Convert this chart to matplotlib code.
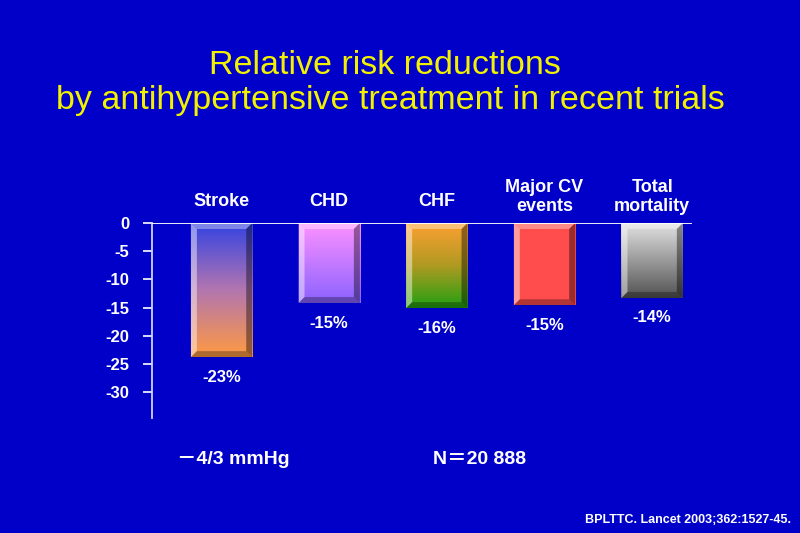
import numpy as np
import matplotlib
matplotlib.use("Agg")
import matplotlib.pyplot as plt
from matplotlib.colors import LinearSegmentedColormap
from matplotlib.patches import Polygon

# --- Data ---
categories = ["Stroke", "CHD", "CHF", "Major CV\nevents", "Total\nmortality"]
bar_depth = [-23.8, -14.2, -15.1, -14.6, -13.3]   # where the bars end as drawn
value_labels = ["-23%", "-15%", "-16%", "-15%", "-14%"]
y_ticks = [0, -5, -10, -15, -20, -25, -30]

# gradient stops top -> bottom for each bar
bar_colors = [
    ["#3242e2", "#b276b0", "#ff9a42"],
    ["#ff92ff", "#8a62ff"],
    ["#ffa032", "#b09a22", "#22a012"],
    ["#ff4c4c", "#ff4c4c"],
    ["#e2e2e2", "#525252"],
]

bg = "#0000c8"
white = "white"
font = ["Liberation Sans", "Noto Sans CJK SC", "DejaVu Sans"]
plt.rcParams['font.family'] = font

fig = plt.figure(figsize=(8, 5.33), dpi=100, facecolor=bg)
ax = fig.add_axes([152 / 800, 1 - 418 / 533, (692 - 152) / 800, (418 - 223) / 533])
ax.set_facecolor(bg)

xlim = (-0.646, 4.37)
ylim = (-34.6, 0)
bar_w = 0.57
# bevel size: about 6 px each way
dx = 6 * (xlim[1] - xlim[0]) / (692 - 152)
dy = 6 * (ylim[1] - ylim[0]) / (418 - 223)
px_y = (ylim[1] - ylim[0]) / (418 - 223)

grad = np.linspace(0, 1, 256).reshape(-1, 1)
for i, (d, cols) in enumerate(zip(bar_depth, bar_colors)):
    x0, x1 = i - bar_w / 2, i + bar_w / 2
    cmap = LinearSegmentedColormap.from_list(f"bar{i}", cols)
    ax.imshow(grad, cmap=cmap, extent=(x0, x1, d, 0), origin='upper',
              aspect='auto', interpolation='bilinear', zorder=2)
    # bevel faces
    top = [(x0, 0), (x1, 0), (x1 - dx, -dy), (x0 + dx, -dy)]
    left = [(x0, 0), (x0 + dx, -dy), (x0 + dx, d + dy), (x0, d)]
    right = [(x1, 0), (x1, d), (x1 - dx, d + dy), (x1 - dx, -dy)]
    bottom = [(x0, d), (x1, d), (x1 - dx, d + dy), (x0 + dx, d + dy)]
    ax.add_patch(Polygon(top, closed=True, fc='white', alpha=0.35, lw=0, zorder=3))
    ax.add_patch(Polygon(left, closed=True, fc='white', alpha=0.45, lw=0, zorder=3))
    ax.add_patch(Polygon(right, closed=True, fc='black', alpha=0.4, lw=0, zorder=3))
    ax.add_patch(Polygon(bottom, closed=True, fc='black', alpha=0.3, lw=0, zorder=3))

    # percentage under the bar
    ax.text(i, d - 20 * px_y, value_labels[i], ha='center', va='center',
            color=white, fontsize=12, fontweight='bold')
    # category name above the bar
    cy = 26 * px_y if "\n" in categories[i] else 21 * px_y
    ax.text(i, cy, categories[i], ha='center', va='center', color=white,
            fontsize=13, fontweight='bold', linespacing=1.2, clip_on=False)

ax.set_xlim(*xlim)
ax.set_ylim(*ylim)
ax.axhline(0, color=white, lw=1.3, zorder=4)

for s in ['top', 'right', 'bottom']:
    ax.spines[s].set_visible(False)
ax.spines['left'].set_color('#d0d0ff')
ax.spines['left'].set_linewidth(1.3)
ax.set_xticks([])
ax.set_yticks(y_ticks)
ax.set_yticklabels([str(t) for t in y_ticks])
ax.tick_params(axis='y', colors=white, length=6.5, width=1.2, pad=10,
               labelsize=12)
for lab in ax.get_yticklabels():
    lab.set_fontweight('bold')

# --- Title ---
fig.text(385 / 800, 1 - 65 / 533, "Relative risk reductions", ha='center',
         va='center', color='#f2f200', fontsize=24.5)
fig.text(390 / 800, 1 - 100 / 533, "by antihypertensive treatment in recent trials",
         ha='center', va='center', color='#f2f200', fontsize=24.5)

# --- Footer notes ---
fig.text(177 / 800, 1 - 460 / 533, "－4/3 mmHg", ha='left', va='center',
         color=white, fontsize=14, fontweight='bold')
fig.text(433 / 800, 1 - 459 / 533, "N＝20 888", ha='left', va='center',
         color=white, fontsize=14, fontweight='bold')
fig.text(791 / 800, 1 - 520 / 533, "BPLTTC. Lancet 2003;362:1527-45.", ha='right',
         va='center', color=white, fontsize=9, fontweight='bold')

fig.savefig("out.png", dpi=100, facecolor=bg)
